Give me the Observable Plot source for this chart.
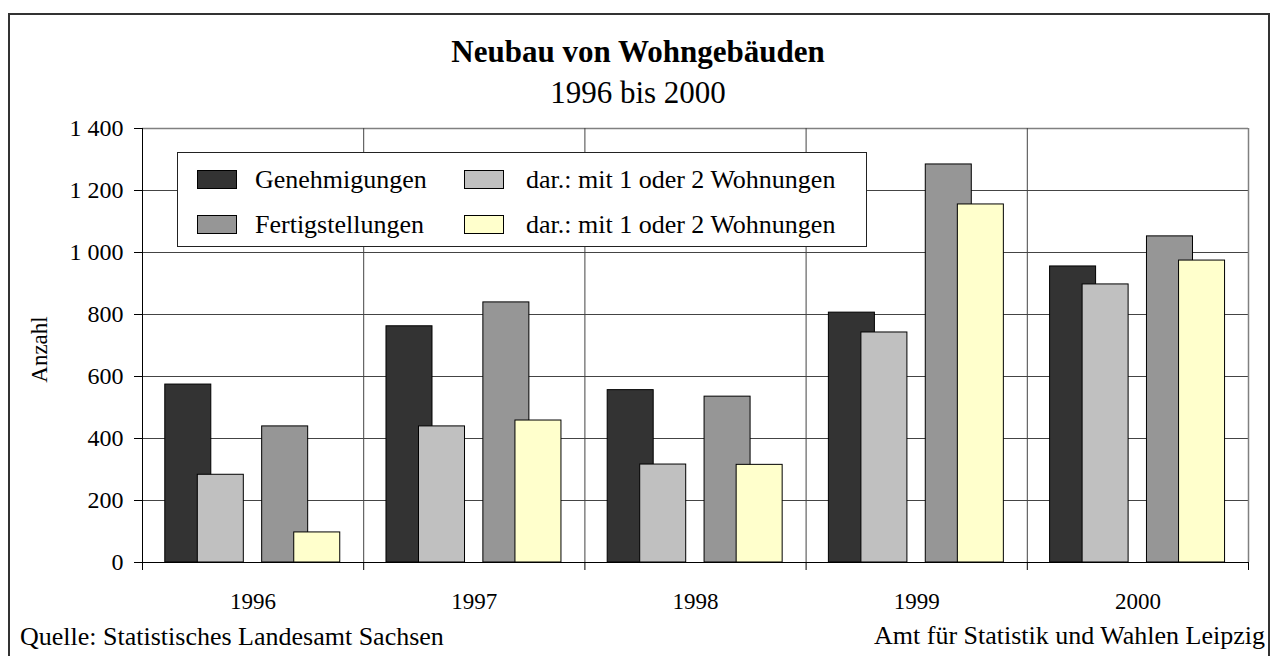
<!DOCTYPE html>
<html>
<head>
<meta charset="utf-8">
<script src="https://cdn.jsdelivr.net/npm/d3@7"></script>
<script src="https://cdn.jsdelivr.net/npm/@observablehq/plot@0.6"></script>
<style>
  html, body { margin: 0; padding: 0; background: #fff; }
  #wrap { position: relative; width: 1271px; height: 656px; overflow: hidden; font-family: "Liberation Serif", "Times New Roman", serif; color: #000; }
  #border { position: absolute; left: 8px; top: 13px; width: 1258px; height: 700px; border: 2px solid #333; box-sizing: content-box; }
  .t { position: absolute; white-space: nowrap; }
  #chart { position: absolute; left: 0; top: 0; }
  #legend { position: absolute; left: 177px; top: 152px; width: 690px; height: 95px; border: 1px solid #222; background: #fff; box-sizing: border-box; }
  .sw { position: absolute; width: 40px; height: 19px; border: 1px solid #000; box-sizing: border-box; }
  .lt { position: absolute; font-size: 26px; line-height: 26px; white-space: nowrap; font-family: "Liberation Serif", "Times New Roman", serif; }
</style>
</head>
<body>
<div id="wrap">
  <div id="border"></div>
  <div id="chart"></div>
  <div class="t" style="left:0;width:1276px;text-align:center;top:36px;font-size:31px;line-height:31px;font-weight:bold;">Neubau von Wohngebäuden</div>
  <div class="t" style="left:0;width:1276px;text-align:center;top:77px;font-size:31px;line-height:31px;">1996 bis 2000</div>
  <div id="legend"></div>
  <div class="t" style="left:20px;top:624px;font-size:26px;line-height:26px;">Quelle: Statistisches Landesamt Sachsen</div>
  <div class="t" style="right:6px;top:623px;font-size:26px;line-height:26px;">Amt für Statistik und Wahlen Leipzig</div>
</div>
<script>
// ---- data ----
const years = ["1996", "1997", "1998", "1999", "2000"];
const genehmigungen = [574, 762, 556, 806, 955];
const genehmigungenEinZwei = [283, 439, 316, 742, 897];
const fertigstellungen = [439, 839, 535, 1284, 1052];
const fertigstellungenEinZwei = [97, 458, 315, 1155, 974];
const seriesNames = ["Genehmigungen", "dar.: mit 1 oder 2 Wohnungen", "Fertigstellungen", "dar.: mit 1 oder 2 Wohnungen"];
const yTicks = [0, 200, 400, 600, 800, 1000, 1200, 1400];

// ---- styling ----
const colors = ["#333333", "#C0C0C0", "#969696", "#FFFFCC"];
const offsets = [0.103, 0.250, 0.541, 0.686];
const barW = 0.208;

const seriesValues = [genehmigungen, genehmigungenEinZwei, fertigstellungen, fertigstellungenEinZwei];
const rows = seriesValues.map((vals, s) => vals.map((v, i) => ({i, s, value: v})));

const fmt = d3.formatLocale({thousands: " ", grouping: [3], decimal: ","}).format(",d");

const barMarks = rows.map((data, s) => Plot.rectY(data, {
  x1: d => d.i + offsets[s],
  x2: d => d.i + offsets[s] + barW,
  y1: 0,
  y2: "value",
  fill: colors[s],
  stroke: "#000",
  strokeWidth: 1,
  inset: 0
}));

const chart = Plot.plot({
  width: 1271,
  height: 656,
  marginLeft: 142,
  marginRight: 23,
  marginTop: 128,
  marginBottom: 94,
  style: {fontFamily: "'Liberation Serif', 'Times New Roman', serif", fontSize: "23px", color: "#000", background: "transparent", overflow: "visible"},
  x: {type: "linear", domain: [0, years.length]},
  y: {domain: [0, 1400]},
  marks: [
    Plot.ruleY(yTicks.filter(v => v > 0 && v < 1400), {stroke: "#444", strokeWidth: 1}),
    Plot.ruleY([1400], {stroke: "#808080", strokeWidth: 1.5}),
    Plot.ruleX(d3.range(1, years.length), {stroke: "#444", strokeWidth: 1}),
    Plot.ruleX([years.length], {stroke: "#808080", strokeWidth: 1.5}),
    ...barMarks,
    Plot.ruleY([0], {stroke: "#000", strokeWidth: 1}),
    Plot.ruleX([0], {stroke: "#000", strokeWidth: 1}),
    Plot.axisY(yTicks, {tickSize: 8, tickPadding: 11, tickFormat: fmt, label: null, stroke: "#000", fontSize: 24}),
    Plot.axisX(d3.range(0, years.length + 1), {tickSize: 8, tickFormat: () => "", label: null, stroke: "#000"}),
    Plot.axisX(years.map((y, i) => i + 0.5), {tickSize: 0, tickPadding: 30, tickFormat: d => years[Math.floor(d)], label: null}),
    Plot.text(["Anzahl"], {frameAnchor: "left", textAnchor: "middle", rotate: -90, dx: -103, dy: 4, fontSize: 23, fill: "#000"})
  ]
});
document.getElementById("chart").appendChild(chart);

// ---- legend (HTML overlay) ----
const legend = document.getElementById("legend");
const legendItems = [
  {s: 0, left: 196, top: 169, textLeft: 254},
  {s: 1, left: 463, top: 169, textLeft: 525},
  {s: 2, left: 196, top: 214, textLeft: 254},
  {s: 3, left: 463, top: 214, textLeft: 525}
];
legendItems.forEach(it => {
  const sw = document.createElement("div");
  sw.className = "sw";
  sw.style.left = (it.left - 177) + "px";
  sw.style.top = (it.top - 152) + "px";
  sw.style.background = colors[it.s];
  legend.appendChild(sw);
  const t = document.createElement("div");
  t.className = "lt";
  t.style.left = (it.textLeft - 177) + "px";
  t.style.top = (it.top - 152 - 3) + "px";
  t.textContent = seriesNames[it.s];
  legend.appendChild(t);
});
</script>
</body>
</html>
